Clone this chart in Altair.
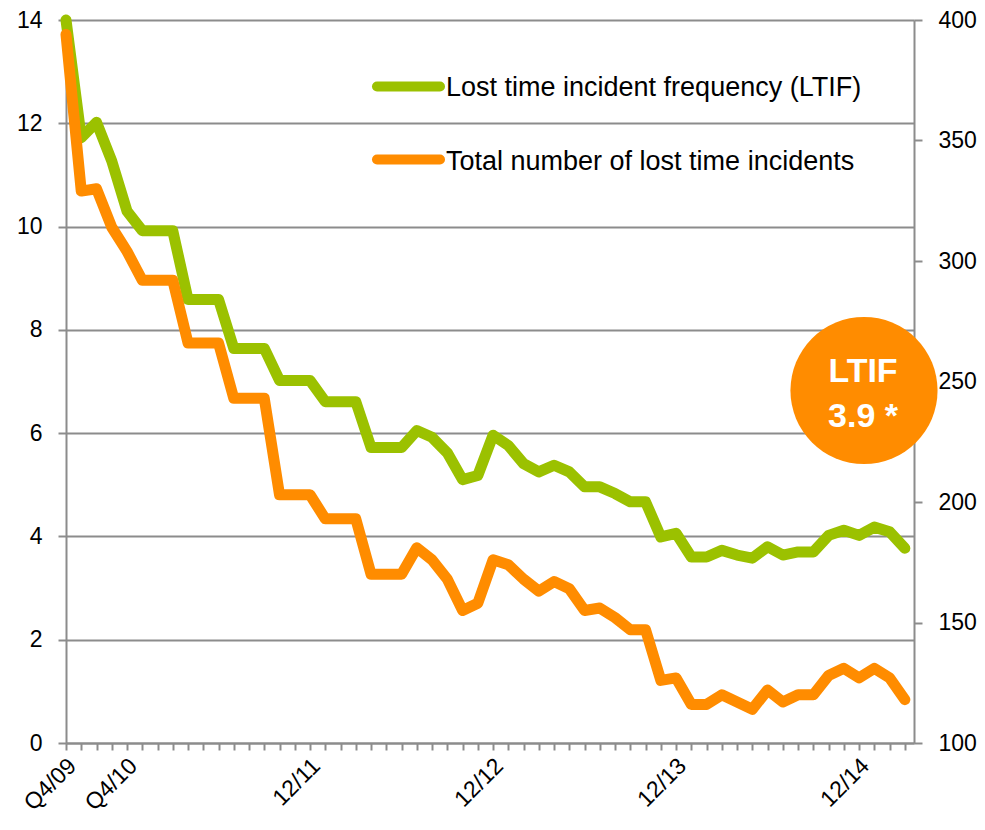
import altair as alt
import pandas as pd

# ---------------- data ----------------
periods = (["Q4/09", "Q1/10", "Q2/10", "Q3/10", "Q4/10"]
           + [f"{m:02d}/{y}" for y in (11, 12, 13, 14) for m in range(1, 13)]
           + ["01/15", "02/15", "03/15"])
shown_labels = ["Q4/09", "Q4/10", "12/11", "12/12", "12/13", "12/14"]

ltif = [14.0, 11.72, 12.02, 11.27, 10.3, 9.92, 9.92, 9.92, 8.59, 8.59,
        8.59, 7.64, 7.64, 7.64, 7.02, 7.02, 7.02, 6.61, 6.61, 6.61,
        5.72, 5.72, 5.72, 6.05, 5.92, 5.62, 5.10, 5.18, 5.96, 5.76,
        5.41, 5.25, 5.38, 5.25, 4.96, 4.96, 4.83, 4.67, 4.67, 3.99,
        4.06, 3.60, 3.60, 3.73, 3.64, 3.58, 3.80, 3.64, 3.70, 3.70,
        4.02, 4.12, 4.02, 4.18, 4.09, 3.77]

lost_time_incidents = [394, 329, 330, 314, 304, 292, 292, 292, 266, 266,
                       266, 243, 243, 243, 203, 203, 203, 193, 193, 193,
                       170, 170, 170, 181, 176, 168, 155, 158, 176, 174,
                       168, 163, 167, 164, 155, 156, 152, 147, 147, 126,
                       127, 116, 116, 120, 117, 114, 122, 117, 120, 120,
                       128, 131, 127, 131, 127, 118]

ltif_ticks = [0, 2, 4, 6, 8, 10, 12, 14]
lti_ticks = [100, 150, 200, 250, 300, 350, 400]
series_names = ["Lost time incident frequency (LTIF)",
                "Total number of lost time incidents"]
badge_lines = ["LTIF", "3.9 *"]

df = pd.DataFrame({
    "idx": list(range(len(periods))),
    "period": periods,
    "ltif": ltif,
    "lti": lost_time_incidents,
})
one = pd.DataFrame({"k": [0]})

# ---------------- style ----------------
GREEN = "#9BC100"
ORANGE = "#FF8C00"
GRID = "#8C8C8C"
FONT = "Liberation Sans"

label_array = "[" + ",".join(
    "'" + (p if p in shown_labels else "") + "'" for p in periods) + "]"

x_enc = alt.X(
    "idx:Q",
    scale=alt.Scale(domain=[0, 55.6], nice=False, zero=False),
    axis=alt.Axis(
        values=list(range(len(periods))),
        labelExpr=f"{label_array}[datum.value]",
        labelAngle=-45, labelAlign="right", labelBaseline="middle",
        labelFontSize=23, labelColor="black", labelFont=FONT,
        labelPadding=12, labelOffset=6, labelOverlap=False, labelFlush=False,
        tickSize=7, tickColor=GRID, tickWidth=2,
        domainColor=GRID, domainWidth=2, grid=False, title=None,
    ),
)

common_axis = dict(
    labelFontSize=23, labelColor="black", labelFont=FONT,
    labelPadding=16, tickSize=8, tickColor=GRID, tickWidth=2,
    domainColor=GRID, domainWidth=2, title=None,
)

green_line = alt.Chart(df).mark_line(
    color=GREEN, strokeWidth=11, strokeCap="round", strokeJoin="round"
).encode(
    x=x_enc,
    y=alt.Y("ltif:Q", scale=alt.Scale(domain=[0, 14], nice=False),
            axis=alt.Axis(values=ltif_ticks, orient="left", grid=True,
                          gridColor=GRID, gridWidth=2, **common_axis)),
)

orange_line = alt.Chart(df).mark_line(
    color=ORANGE, strokeWidth=11, strokeCap="round", strokeJoin="round"
).encode(
    x=x_enc,
    y=alt.Y("lti:Q", scale=alt.Scale(domain=[100, 400], nice=False, zero=False),
            axis=alt.Axis(values=lti_ticks, orient="right", grid=False,
                          **common_axis)),
)

# legend (manual, inside plot)
leg_rule_1 = alt.Chart(one).mark_rule(
    color=GREEN, strokeWidth=10, strokeCap="round"
).encode(x=alt.value(311), x2=alt.value(374), y=alt.value(66.5))
leg_rule_2 = alt.Chart(one).mark_rule(
    color=ORANGE, strokeWidth=10, strokeCap="round"
).encode(x=alt.value(311), x2=alt.value(374), y=alt.value(139.5))
leg_text_1 = alt.Chart(one).mark_text(
    text=series_names[0], align="left", baseline="alphabetic",
    fontSize=27, font=FONT, color="black"
).encode(x=alt.value(380), y=alt.value(76))
leg_text_2 = alt.Chart(one).mark_text(
    text=series_names[1], align="left", baseline="alphabetic",
    fontSize=27, font=FONT, color="black"
).encode(x=alt.value(380), y=alt.value(150))

# badge
badge = alt.Chart(one).mark_circle(
    size=21642, color=ORANGE, opacity=1
).encode(x=alt.value(798), y=alt.value(370.5))
badge_t1 = alt.Chart(one).mark_text(
    text=badge_lines[0], align="center", baseline="alphabetic",
    fontSize=34, fontWeight="bold", font=FONT, color="white"
).encode(x=alt.value(797), y=alt.value(362))
badge_t2 = alt.Chart(one).mark_text(
    text=badge_lines[1], align="center", baseline="alphabetic",
    fontSize=34, fontWeight="bold", font=FONT, color="white"
).encode(x=alt.value(797), y=alt.value(407))

chart = alt.layer(
    green_line, orange_line,
    leg_rule_1, leg_rule_2, leg_text_1, leg_text_2,
    badge, badge_t1, badge_t2,
).resolve_scale(y="independent").properties(
    width=848, height=723,
    autosize=alt.AutoSizeParams(type="none"),
    padding={"left": 58, "top": 12, "right": 63, "bottom": 79},
    background="white",
).configure_view(stroke=None)

chart.save("out.html", embed_options={"renderer": "svg", "actions": False})
